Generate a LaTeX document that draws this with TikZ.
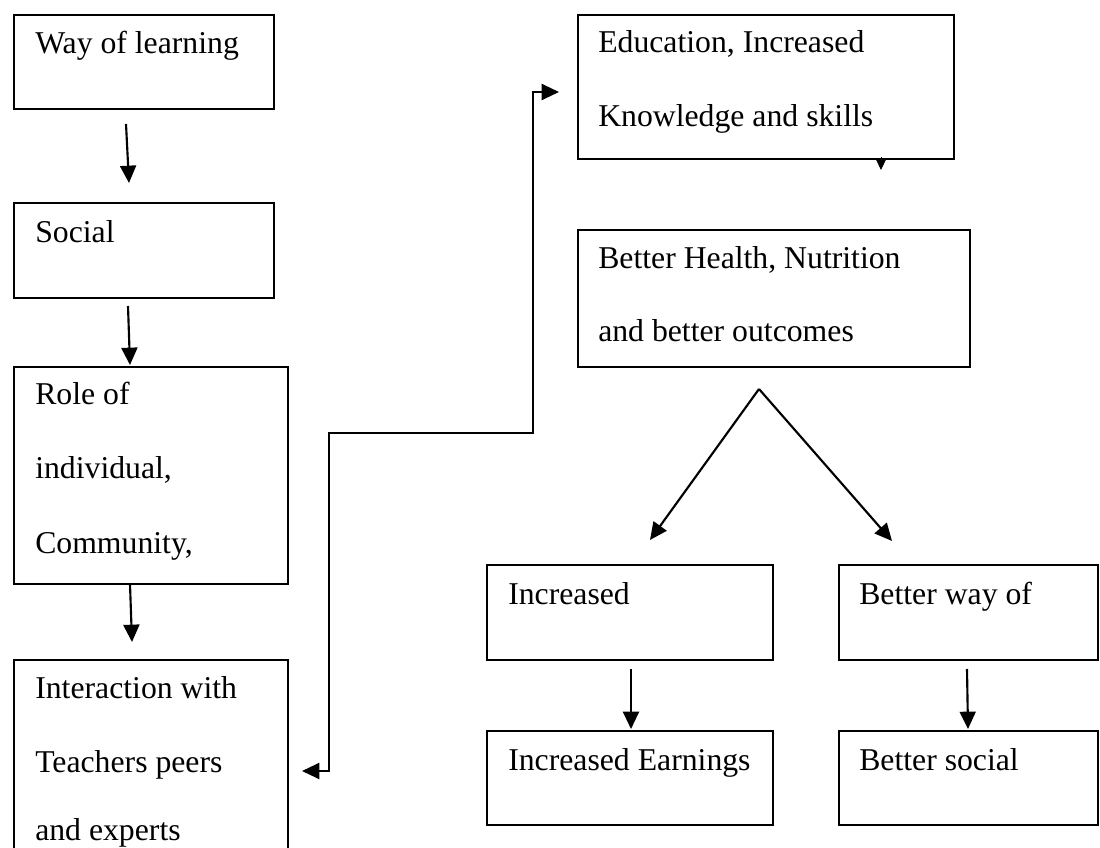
\documentclass[tikz,border=0pt]{standalone}
\usepackage{fontspec}
\setmainfont{Liberation Serif}
\usetikzlibrary{arrows.meta,positioning}

\begin{document}
\begin{tikzpicture}[x=0.75pt,y=-0.75pt,
  box/.style 2 args={draw,line width=1.6pt,inner sep=0pt,anchor=north west,
    minimum width=#1*0.75pt,minimum height=#2*0.75pt},
  lbl/.style={anchor=base west,inner sep=0pt,font=\fontsize{23.8pt}{28pt}\selectfont},
  flow/.style={line width=1.6pt,-{Triangle[length=13pt,width=12pt]}},
  both/.style={line width=1.6pt,{Triangle[length=13pt,width=12pt]}-{Triangle[length=13pt,width=12pt]}},
  tiptri/.style={line width=0.6pt,-{Triangle[length=8pt,width=7.5pt]}}]
\useasboundingbox (0,0) rectangle (1100,848);
\clip (0,0) rectangle (1100,848);

% left column
\node[box={260}{94}]  (wol)   at (13,14)  {};
\node[box={260}{95}]  (soc)   at (13,202) {};
\node[box={274}{217}] (role)  at (13,366) {};
\node[box={274}{221}] (inter) at (13,659) {};

\node[lbl] (wolT)   at (35,54)  {Way of learning};
\node[lbl] (socT)   at (35,243) {Social};
\node[lbl] (roleA)  at (35,405) {Role of};
\node[lbl] (roleB)  at (35,479) {individual,};
\node[lbl] (roleC)  at (35,553) {Community,};
\node[lbl] (interA) at (35,698) {Interaction with};
\node[lbl] (interB) at (35,772) {Teachers peers};
\node[lbl] (interC) at (35,840) {and experts};

% right side
\node[box={376}{144}] (edu)    at (577,14)  {};
\node[box={392}{137}] (health) at (577,229) {};
\node[box={286}{95}]  (inc)    at (486,564) {};
\node[box={259}{95}]  (bway)   at (838,564) {};
\node[box={286}{94}]  (earn)   at (486,730) {};
\node[box={259}{94}]  (bsoc)   at (838,730) {};

\node[lbl] (eduA)    at (598,53)  {Education, Increased};
\node[lbl] (eduB)    at (598,127) {Knowledge and skills};
\node[lbl] (healthA) at (598,269) {Better Health, Nutrition};
\node[lbl] (healthB) at (598,342) {and better outcomes};
\node[lbl] (incT)    at (508,604) {Increased};
\node[lbl] (bwayT)   at (859,604) {Better way of};
\node[lbl] (earnT)   at (508,770) {Increased Earnings};
\node[lbl] (bsocT)   at (859,770) {Better social};

% connector end points
\coordinate (a1s) at (126,124); \coordinate (a1e) at (129,183);
\coordinate (a2s) at (128,306); \coordinate (a2e) at (130,365);
\coordinate (a3s) at (130,584); \coordinate (a3e) at (132,642);
\coordinate (apex) at (759,389);
\coordinate (vl) at (650,540);  \coordinate (vr) at (892,541);
\coordinate (a4s) at (631,669); \coordinate (a4e) at (631,729);
\coordinate (a5s) at (967,669); \coordinate (a5e) at (968,729);
\coordinate (linkL) at (302,771);
\coordinate (linkR) at (559,92);
\coordinate (tipS) at (881,157);  \coordinate (tipE) at (881,170);

\draw[flow] (a1s) -- (a1e);
\draw[flow] (a2s) -- (a2e);
\draw[flow] (a3s) -- (a3e);
\draw[flow] (apex) -- (vl);
\draw[flow] (apex) -- (vr);
\draw[flow] (a4s) -- (a4e);
\draw[flow] (a5s) -- (a5e);

% elbow link between the interaction box and the education box
\draw[both] (linkL) -- (329,771) -- (329,433) -- (533,433) -- (533,92) -- (linkR);

% small tip under the education box
\draw[tiptri] (tipS) -- (tipE);
\end{tikzpicture}
\end{document}
